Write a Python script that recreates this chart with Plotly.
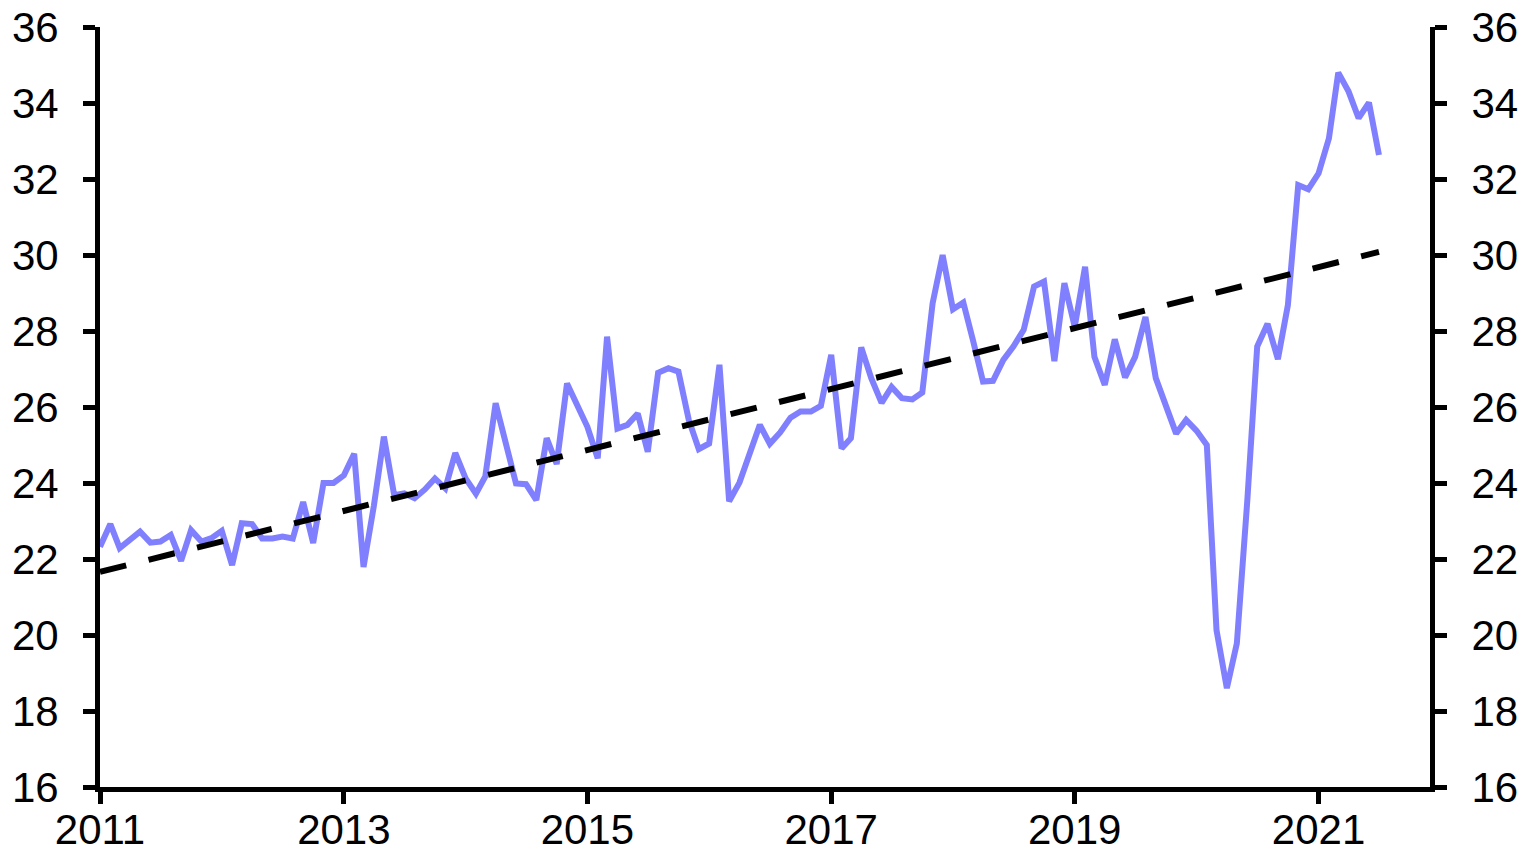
import plotly.graph_objects as go
import pandas as pd

# Monthly values, Jan 2011 - Jul 2021
values = [
    22.32, 22.92, 22.29, 22.53, 22.72, 22.43, 22.46, 22.63, 21.95, 22.76, 22.46, 22.55,  # 2011
    22.74, 21.84, 22.94, 22.92, 22.54, 22.54, 22.59, 22.54, 23.50, 22.42, 24.00, 24.00,  # 2012
    24.20, 24.77, 21.79, 23.40, 25.22, 23.68, 23.73, 23.60, 23.83, 24.12, 23.86, 24.79,  # 2013
    24.12, 23.72, 24.17, 26.10, 25.10, 23.99, 23.97, 23.55, 25.18, 24.50, 26.62, 26.10,  # 2014
    25.48, 24.65, 27.85, 25.43, 25.53, 25.83, 24.82, 26.90, 27.02, 26.93, 25.66, 24.89,  # 2015
    25.04, 27.11, 23.52, 24.01, 24.78, 25.53, 25.03, 25.33, 25.72, 25.88, 25.88, 26.03,  # 2016
    27.37, 24.91, 25.18, 27.57, 26.76, 26.11, 26.53, 26.23, 26.20, 26.38, 28.73, 30.00,  # 2017
    28.57, 28.75, 27.79, 26.67, 26.69, 27.24, 27.59, 28.03, 29.17, 29.30, 27.21, 29.26,  # 2018
    28.11, 29.69, 27.32, 26.58, 27.78, 26.78, 27.32, 28.37, 26.76, 26.00, 25.30, 25.66,  # 2019
    25.38, 25.00, 20.13, 18.60, 19.78, 23.50, 27.59, 28.19, 27.26, 28.68, 31.84, 31.73,  # 2020
    32.15, 33.07, 34.80, 34.30, 33.60, 34.01, 32.63,                                      # 2021
]
dates = pd.date_range("2011-01-01", periods=len(values), freq="MS")

trend_dates = ["2011-01-01", "2021-07-01"]
trend_values = [21.66, 30.08]

y_ticks = [16, 18, 20, 22, 24, 26, 28, 30, 32, 34, 36]
x_range = ["2011-01-01", "2021-12-01"]
y_range = [16, 36]

font_family = "Liberation Sans, Arial, sans-serif"
tick_font = dict(family=font_family, size=42, color="black")

common_axis = dict(
    showgrid=False, zeroline=False, automargin=False,
    showline=True, linecolor="black", linewidth=5,
    ticks="outside", ticklen=12, tickwidth=5, tickcolor="black",
    tickfont=tick_font, ticklabeloverflow="allow",
)

fig = go.Figure()
fig.add_trace(go.Scatter(
    x=dates, y=values, mode="lines",
    line=dict(color="#8080FF", width=6),
    showlegend=False, hoverinfo="skip",
))
fig.add_trace(go.Scatter(
    x=trend_dates, y=trend_values, mode="lines",
    line=dict(color="black", width=6, dash="27px,23px"),
    yaxis="y2", showlegend=False, hoverinfo="skip",
))

fig.update_layout(
    width=1527, height=852,
    margin=dict(l=100, r=97, t=27, b=65),
    paper_bgcolor="white", plot_bgcolor="white",
    xaxis=dict(
        type="date", range=x_range,
        tick0="2011-01-01", dtick="M24", tickformat="%Y",
        ticklabelstandoff=-10,
        **common_axis,
    ),
    yaxis=dict(
        range=y_range, tickvals=y_ticks, ticklabelstandoff=16,
        **common_axis,
    ),
    yaxis2=dict(
        range=y_range, tickvals=y_ticks, overlaying="y", side="right",
        ticklabelstandoff=16,
        **common_axis,
    ),
)

# remove the default 8px body margin so the figure fills the window exactly
fig.write_html(
    "out.html",
    config={"displayModeBar": False, "staticPlot": True},
    post_script="document.body.style.margin='0';document.body.style.overflow='hidden';",
)
